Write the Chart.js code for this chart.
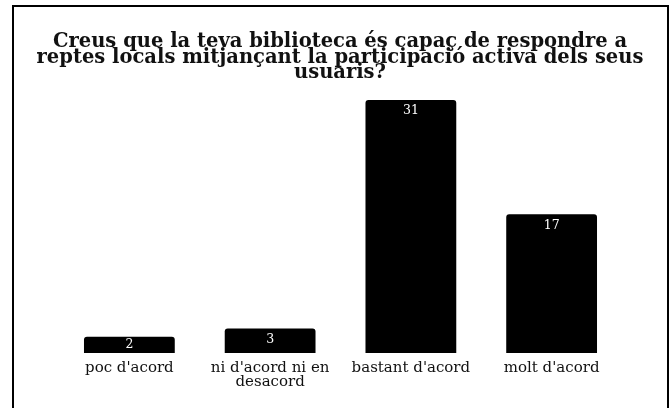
<!DOCTYPE html>
<html>
<head>
<meta charset="utf-8">
<script src="https://cdn.jsdelivr.net/npm/chart.js@4"></script>
<style>
  html, body { margin: 0; padding: 0; background: #fff; }
  canvas { display: block; }
</style>
</head>
<body>
<canvas id="chart" width="671" height="408"></canvas>
<script>
const titleLines = [
  "Creus que la teva biblioteca és capaç de respondre a",
  "reptes locals mitjançant la participació activa dels seus",
  "usuaris?"
];
const categories = [
  "poc d'acord",
  ["ni d'acord ni en", "desacord"],
  "bastant d'acord",
  "molt d'acord"
];
const values = [2, 3, 31, 17];
const yMax = 31;

// marc negre (esquerra, dalt, dreta) i títol
const framePlugin = {
  id: 'frame',
  beforeDraw(chart) {
    const ctx = chart.ctx;
    ctx.save();
    ctx.fillStyle = '#fff';
    ctx.fillRect(0, 0, chart.width, chart.height);
    ctx.fillStyle = '#000';
    ctx.fillRect(12, 5, 2, 403);
    ctx.fillRect(12, 5, 657, 2);
    ctx.fillRect(667, 5, 2, 403);
    // el títol es dibuixa a mà perquè el plugin de Chart.js l'estreny
    ctx.fillStyle = '#111';
    ctx.font = 'bold 19.5px "DejaVu Serif"';
    ctx.textAlign = 'center';
    ctx.textBaseline = 'middle';
    titleLines.forEach((line, i) => {
      ctx.fillText(line, 340, 42 + i * 15.5);
    });
    ctx.restore();
  }
};

// valors en blanc dins la part superior de cada barra
const valueLabels = {
  id: 'valueLabels',
  afterDatasetsDraw(chart) {
    const ctx = chart.ctx;
    const meta = chart.getDatasetMeta(0);
    ctx.save();
    ctx.fillStyle = '#fff';
    ctx.font = '12.5px "DejaVu Serif"';
    ctx.textAlign = 'center';
    ctx.textBaseline = 'middle';
    meta.data.forEach((bar, i) => {
      const y = Math.min(bar.y + 11, (bar.y + bar.base) / 2);
      ctx.fillText(values[i], bar.x, y);
    });
    ctx.restore();
  }
};

new Chart(document.getElementById('chart'), {
  type: 'bar',
  data: {
    labels: categories,
    datasets: [{
      data: values,
      backgroundColor: '#000',
      borderRadius: 3,
      categoryPercentage: 0.645,
      barPercentage: 1
    }]
  },
  options: {
    responsive: false,
    animation: false,
    layout: { padding: { left: 59, right: 49, top: 100, bottom: 0 } },
    plugins: {
      legend: { display: false },
      tooltip: { enabled: false },
      title: { display: false }
    },
    scales: {
      x: {
        grid: { display: false, drawTicks: false },
        border: { display: false },
        ticks: {
          color: '#111',
          padding: 8,
          font: { family: 'DejaVu Serif', size: 15, lineHeight: 0.95 }
        },
        afterFit(scale) { scale.height = 55; }
      },
      y: {
        display: false,
        min: 0,
        max: yMax
      }
    }
  },
  plugins: [framePlugin, valueLabels]
});
</script>
</body>
</html>
